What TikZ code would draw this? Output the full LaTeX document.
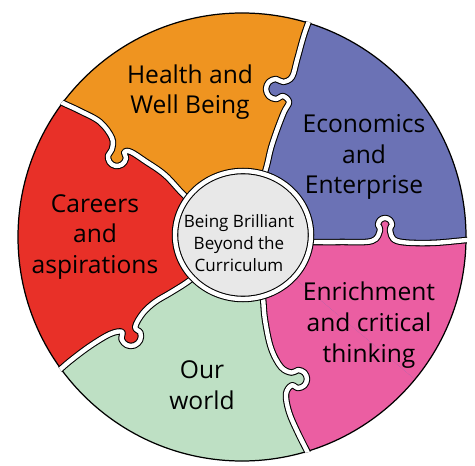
\documentclass[tikz,border=0pt]{standalone}
\usepackage{fontspec}
\setmainfont{Open Sans}
\usepackage{xcolor}
\usetikzlibrary{calc}

\definecolor{healthOrange}{RGB}{239,148,32}
\definecolor{econBlue}{RGB}{107,114,181}
\definecolor{enrichPink}{RGB}{235,94,162}
\definecolor{worldGreen}{RGB}{190,224,196}
\definecolor{careerRed}{RGB}{232,48,40}
\definecolor{hubGray}{RGB}{232,232,232}

% seams between the pieces (inner end first), one knob each
\newcommand{\seamOB}{plot[smooth, tension=0.6] coordinates {(262,182) (267,165) (271,148) (277,130) (284,112) (289,102) (283.1,96.1) (276,99) (268.9,96.1) (266,89) (268.9,81.9) (276,79) (283.1,81.9) (292,77) (297,60) (304,35) (312,12) (316,-5)}}
\newcommand{\seamBP}{plot[smooth, tension=0.6] coordinates {(298,242) (312,242) (340,242) (372,241) (380.05,229.95) (378,225) (380.05,220.05) (385,218) (389.95,220.05) (392,225) (389.95,229.95) (397,241) (430,243) (467,240) (482,239)}}
\newcommand{\seamPG}{plot[smooth, tension=0.6] coordinates {(261,285) (263,298) (265,320) (271,348) (281,367) (291.6,372.6) (298,370) (304.4,372.6) (307,379) (304.4,385.4) (298,388) (291.6,385.4) (286,394) (289,412) (298,433) (310,457) (318,475)}}
\newcommand{\seamGR}{plot[smooth, tension=0.6] coordinates {(199,273) (186,283) (170,293) (155,302) (143,313) (135.2,326.9) (140.4,332.6) (140.1,340.2) (134.4,345.4) (126.8,345.1) (121.6,339.4) (121.9,331.8) (110,334) (90,346) (70,361) (56,373) (38,387)}}
\newcommand{\seamRO}{plot[smooth, tension=0.6] coordinates {(200,206) (185,196) (165,175) (145,161) (131,152) (124.4,151.8) (125.9,158.6) (122.2,164.4) (115.4,165.9) (109.6,162.2) (108.1,155.4) (111.8,149.6) (112,138) (100,122) (80,111) (65,104) (48,96)}}

\begin{document}
\begin{tikzpicture}[x=0.02cm, y=-0.02cm,
    seam/.style={draw=black, line width=0.6pt, double=white, double distance=2.5pt, line join=round},
    piecelabel/.style={align=center, font=\fontsize{14}{17.5}\selectfont, text=black},
    hublabel/.style={align=center, font=\fontsize{9.7}{12.6}\selectfont, text=black},
  ]
    \useasboundingbox (0,0) rectangle (475,465);
    \coordinate (disc) at (242,237);
    \coordinate (c) at (243,235);

    % Pieces, painted one after the other
    \begin{scope}
      \clip (disc) circle (224);
      \fill[enrichPink] \seamBP -- ($(c)+(3:340)$) -- ($(c)+(50:340)$) -- ($(c)+(100:340)$) -- (c) -- cycle;
      \fill[worldGreen] \seamPG -- ($(c)+(75:340)$) -- ($(c)+(120:340)$) -- ($(c)+(170:340)$) -- (c) -- cycle;
      \fill[careerRed] \seamGR -- ($(c)+(144:340)$) -- ($(c)+(200:340)$) -- ($(c)+(250:340)$) -- (c) -- cycle;
      \fill[healthOrange] \seamRO -- ($(c)+(215:340)$) -- ($(c)+(270:340)$) -- ($(c)+(320:340)$) -- (c) -- cycle;
      \fill[econBlue] \seamOB -- ($(c)+(288:340)$) -- ($(c)+(340:340)$) -- ($(c)+(40:340)$) -- (c) -- cycle;
      \fill[enrichPink] \seamBP -- ($(c)+(3:340)$) -- ($(c)+(40:340)$) -- (c) -- cycle;
    \end{scope}
    \draw[line width=0.7pt] (disc) circle (224);

    % Seams
    \begin{scope}
      \clip (disc) circle (225);
      \draw[seam] \seamOB;
      \draw[seam] \seamBP;
      \draw[seam] \seamPG;
      \draw[seam] \seamGR;
      \draw[seam] \seamRO;
    \end{scope}

    % Hub
    \filldraw[fill=hubGray, seam] (c) ellipse [x radius=68, y radius=64];

    % Labels
    \node[piecelabel] (health) at (190,92) {Health and\\Well Being};
    \node[piecelabel] (econ) at (364,157) {Economics\\and\\Enterprise};
    \node[piecelabel] (careers) at (95,237) {Careers\\and\\aspirations};
    \node[piecelabel] (enrich) at (369,325) {Enrichment\\and critical\\thinking};
    \node[piecelabel] (world) at (202,385) {Our\\world};
    \node[hublabel] (hub) at (239,243) {Being Brilliant\\Beyond the\\Curriculum};

  \end{tikzpicture}
\end{document}
